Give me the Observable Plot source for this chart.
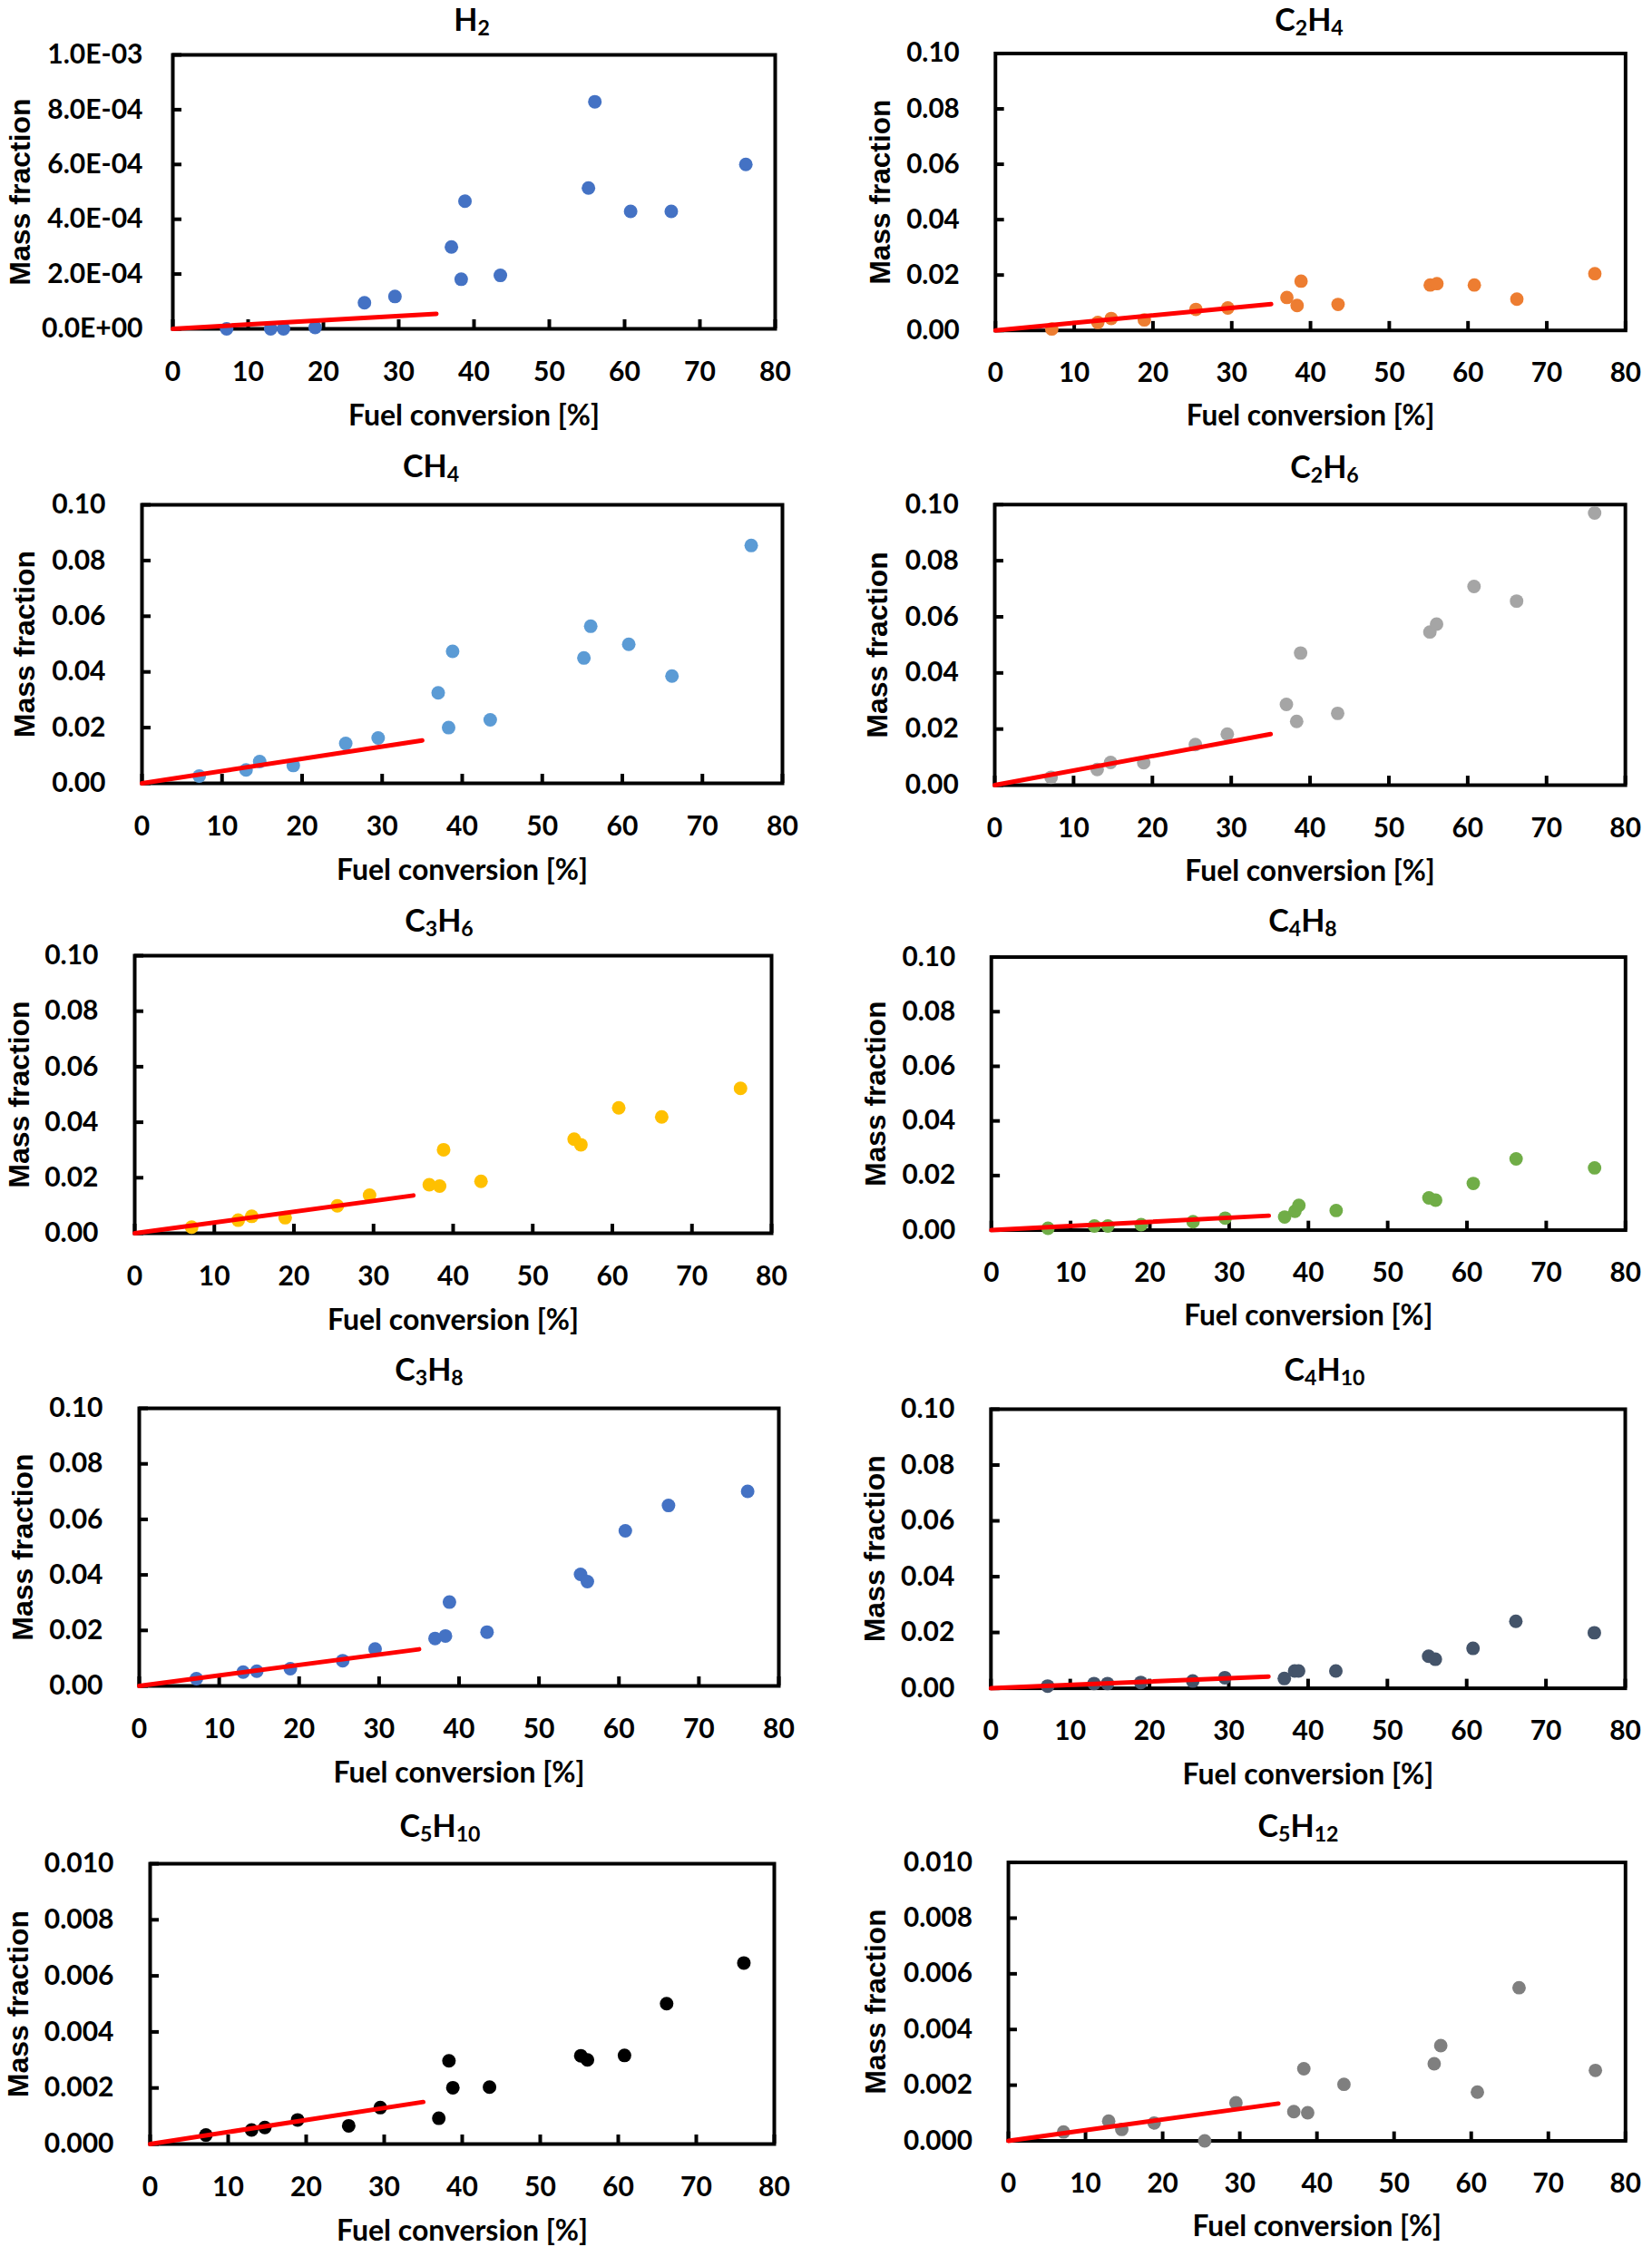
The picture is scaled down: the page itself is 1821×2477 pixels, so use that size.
<!DOCTYPE html>
<html>
<head>
<meta charset="utf-8">
<script src="https://cdn.jsdelivr.net/npm/d3@7"></script>
<script src="https://cdn.jsdelivr.net/npm/@observablehq/plot@0.6"></script>
<style>
  html, body { margin: 0; padding: 0; background: #fff; }
  #page { position: relative; width: 1821px; height: 2477px; overflow: hidden; background: #fff; }
  .panel { position: absolute; }
  .panel svg { overflow: visible; }
  .title {
    position: absolute; transform: translate(-50%, -50%);
    font-family: Lato, "Open Sans", sans-serif; font-weight: 700; font-size: 34px;
    line-height: 1; white-space: nowrap; color: #000;
  }
  .title sub { font-size: 0.68em; vertical-align: baseline; position: relative; top: 0.22em; }
</style>
</head>
<body>
<div id="page"></div>
<script>
// Fuel conversion [%] of the experiments (shared by every species)
const conversion = [7.15, 13.0, 14.7, 18.9, 25.45, 29.5, 37.0, 38.3, 38.8, 43.5, 55.2, 56.05, 60.8, 66.2, 76.1];

// Product mass fractions, one value per experiment
const H2    = [0.0, 0.0, 0.0, 0.000005, 0.000095, 0.000118, 0.000299, 0.000181, 0.000466, 0.000195, 0.000514, 0.000829, 0.000429, 0.000429, 0.000600];
const C2H4  = [0.0005, 0.0029, 0.0043, 0.0038, 0.0076, 0.0081, 0.0119, 0.0090, 0.0178, 0.0094, 0.0164, 0.0169, 0.0164, 0.0113, 0.0205];
const CH4   = [0.0026, 0.0048, 0.0078, 0.0064, 0.0143, 0.0163, 0.0325, 0.0200, 0.0474, 0.0228, 0.0450, 0.0564, 0.0499, 0.0385, 0.0854];
const C2H6  = [0.0028, 0.0056, 0.0081, 0.0080, 0.0145, 0.0182, 0.0288, 0.0227, 0.0471, 0.0256, 0.0546, 0.0574, 0.0708, 0.0656, 0.0970];
const C3H6  = [0.0022, 0.0047, 0.0061, 0.0056, 0.0099, 0.0137, 0.0175, 0.0170, 0.0301, 0.0187, 0.0339, 0.0319, 0.0452, 0.0419, 0.0522];
const C4H8  = [0.0007, 0.0015, 0.0015, 0.0020, 0.0031, 0.0044, 0.0048, 0.0069, 0.0091, 0.0072, 0.0118, 0.0110, 0.0171, 0.0261, 0.0228];
const C3H8  = [0.0026, 0.0050, 0.0053, 0.0062, 0.0091, 0.0133, 0.0171, 0.0180, 0.0302, 0.0194, 0.0402, 0.0376, 0.0559, 0.0650, 0.0701];
const C4H10 = [0.0008, 0.0017, 0.0017, 0.0021, 0.0026, 0.0038, 0.0035, 0.0062, 0.0062, 0.0062, 0.0115, 0.0104, 0.0143, 0.0240, 0.0199];
const C5H10 = [0.00032, 0.00050, 0.00059, 0.00086, 0.00065, 0.00130, 0.00092, 0.00297, 0.00201, 0.00203, 0.00315, 0.00300, 0.00316, 0.00501, 0.00646];
const C5H12 = [0.00032, 0.00071, 0.00041, 0.00064, 0.0, 0.00137, 0.00105, 0.00259, 0.00101, 0.00203, 0.00277, 0.00342, 0.00175, 0.00550, 0.00253];

// Species in panel order (row by row, left then right)
const species = ["H2", "C2H4", "CH4", "C2H6", "C3H6", "C4H8", "C3H8", "C4H10", "C5H10", "C5H12"];
const fractions = [H2, C2H4, CH4, C2H6, C3H6, C4H8, C3H8, C4H10, C5H10, C5H12];

// Low-conversion linear fit: through the origin up to 35 % conversion
const fitConversion = [0, 35];
const fitAt35 = [0.000055, 0.0095, 0.0154, 0.0182, 0.0136, 0.0053, 0.0132, 0.0042, 0.0015, 0.00134];

// Axis ticks
const xTicks = [0, 10, 20, 30, 40, 50, 60, 70, 80];
const yTicksH2 = [0, 0.0002, 0.0004, 0.0006, 0.0008, 0.001];
const yTicksMain = [0, 0.02, 0.04, 0.06, 0.08, 0.1];
const yTicksC5 = [0, 0.002, 0.004, 0.006, 0.008, 0.01];
const yTickSets = [yTicksH2, yTicksMain, yTicksMain, yTicksMain, yTicksMain, yTicksMain, yTicksMain, yTicksMain, yTicksC5, yTicksC5];

// Marker colours per panel
const colors = ["#4472C4", "#ED7D31", "#5B9BD5", "#A5A5A5", "#FFC000", "#70AD47", "#4472C4", "#44546A", "#000000", "#7F7F7F"];

// Page layout: plot frame [left, right, top, bottom], title centre, y-label offset, tick-label gap
const layout = [
  {box: [190, 854, 60, 362],    title: [520, 21],   ylab: 168, gap: 33},
  {box: [1099, 1802, 59, 368],  title: [1443, 21],  ylab: 128, gap: 40},
  {box: [156, 862, 556, 863],   title: [475, 513],  ylab: 129, gap: 40},
  {box: [1097, 1796, 556, 867], title: [1460, 514], ylab: 129, gap: 40},
  {box: [148, 850, 1053, 1359], title: [484, 1014], ylab: 127, gap: 40},
  {box: [1094, 1800, 1055, 1359], title: [1436, 1014], ylab: 128, gap: 40},
  {box: [153, 858, 1552, 1858], title: [473, 1509], ylab: 128, gap: 40},
  {box: [1092, 1792, 1553, 1861], title: [1460, 1509], ylab: 128, gap: 40},
  {box: [165, 853, 2054, 2363], title: [485, 2012], ylab: 145, gap: 40},
  {box: [1113, 1800, 2053, 2363], title: [1431, 2012], ylab: 147, gap: 40}
];

const tickFont = "Lato, 'Open Sans', sans-serif";
const yLabelFont = "'Liberation Sans', Arial, sans-serif";

function expLabel(v) {
  const [m, e] = v.toExponential(1).split("e");
  const n = +e;
  return `${m}E${n < 0 ? "-" : "+"}${String(Math.abs(n)).padStart(2, "0")}`;
}
const formats = [expLabel, d3.format(".2f"), d3.format(".3f")];
function formatFor(i) { return i === 0 ? formats[0] : (i >= 8 ? formats[2] : formats[1]); }

const page = document.getElementById("page");

species.forEach((name, i) => {
  const L = layout[i];
  const [bl, br, bt, bb] = L.box;
  const col = bl < 900 ? 0 : 1;
  const svgLeft = col === 0 ? 0 : 915;
  const mt = 45, mb = 118, mr = 30;
  const ml = bl - svgLeft;
  const width = br + mr - svgLeft;
  const height = (bb - bt) + mt + mb;
  const yTicks = yTickSets[i];

  const points = conversion.map((c, j) => ({conversion: c, fraction: fractions[i][j]}));
  const fit = fitConversion.map((c, j) => ({conversion: c, fraction: j === 0 ? 0 : fitAt35[i]}));

  const chart = Plot.plot({
    width, height,
    marginLeft: ml, marginRight: mr, marginTop: mt, marginBottom: mb,
    x: {domain: [0, 80]},
    y: {domain: [0, yTicks[yTicks.length - 1]]},
    style: {fontFamily: tickFont, fontSize: "30px", fontWeight: 700, color: "#000", background: "transparent", overflow: "visible"},
    marks: [
      Plot.frame({stroke: "#000", strokeWidth: 4}),
      Plot.axisX(xTicks, {tickSize: -10, strokeWidth: 4, tickPadding: 46, tickFormat: (d) => String(d), label: null, fontSize: 30, fontWeight: 700}),
      Plot.axisY(yTicks, {tickSize: -10, strokeWidth: 4, tickPadding: L.gap + 10, tickFormat: formatFor(i), label: null, fontSize: 30, fontWeight: 700}),
      Plot.dot(points, {x: "conversion", y: "fraction", r: 7.5, fill: colors[i]}),
      Plot.line(fit, {x: "conversion", y: "fraction", stroke: "#FF0000", strokeWidth: 5}),
      Plot.text(["Mass fraction"], {text: (d) => d, frameAnchor: "left", textAnchor: "middle", lineAnchor: "middle", rotate: -90, dx: -L.ylab, fontFamily: yLabelFont, fontSize: 32, fontWeight: 700, fill: "#000"}),
      Plot.text(["Fuel conversion [%]"], {text: (d) => d, frameAnchor: "bottom", textAnchor: "middle", lineAnchor: "middle", dy: 96, fontSize: 32, fontWeight: 700, fill: "#000"})
    ]
  });

  const holder = document.createElement("div");
  holder.className = "panel";
  holder.style.left = svgLeft + "px";
  holder.style.top = (bt - mt) + "px";
  holder.appendChild(chart);
  page.appendChild(holder);

  const title = document.createElement("div");
  title.className = "title";
  title.style.left = L.title[0] + "px";
  title.style.top = L.title[1] + "px";
  title.innerHTML = name.replace(/(\d+)/g, "<sub>$1</sub>");
  page.appendChild(title);
});
</script>
</body>
</html>
